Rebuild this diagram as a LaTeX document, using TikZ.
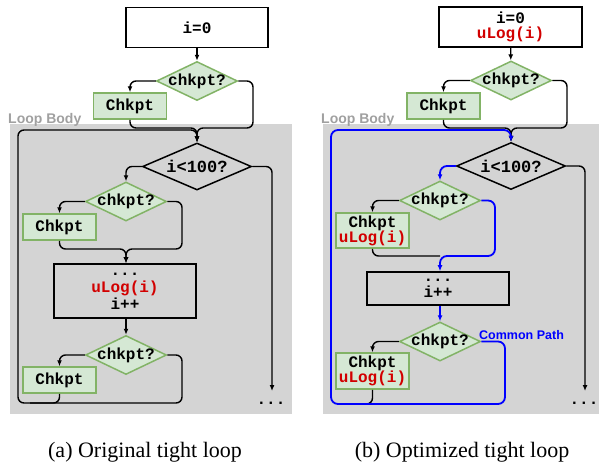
\documentclass[tikz,border=0pt]{standalone}
\usepackage{fontspec}
\setmainfont{Liberation Serif}
\newfontfamily\codefam{Liberation Mono}
\newfontfamily\sansfam{Liberation Sans}
\usetikzlibrary{shapes.geometric,arrows.meta}
\definecolor{bggray}{RGB}{212,212,212}
\definecolor{gfill}{RGB}{213,232,212}
\definecolor{gdraw}{RGB}{130,179,102}
\definecolor{codered}{RGB}{210,0,0}
\definecolor{lblgray}{RGB}{160,160,160}
\definecolor{pathblue}{RGB}{0,0,255}
\begin{document}
\begin{tikzpicture}[x=1pt,y=-1pt,
  code/.style={font=\codefam\bfseries\fontsize{16}{15}\selectfont},
  box/.style={draw=black, line width=1.6pt, inner sep=0pt, align=center, code},
  ck/.style={draw=gdraw, fill=gfill, line width=1.5pt, inner sep=0pt, minimum width=73, align=center, code},
  dia/.style={diamond, draw=gdraw, fill=gfill, line width=1.5pt, inner sep=0pt, minimum width=81, minimum height=39, code},
  cond/.style={diamond, draw=black, fill=bggray, line width=1.5pt, inner sep=0pt, minimum width=109, minimum height=47, font=\codefam\bfseries\fontsize{17}{17}\selectfont},
  conn/.style={line width=1.4pt, rounded corners=6pt},
  arr/.style={conn, -{Latex[length=6pt,width=5pt]}},
  bpath/.style={draw=pathblue, line width=1.8pt, rounded corners=7pt},
  barr/.style={bpath, -{Latex[length=6pt,width=5pt]}},
  looplbl/.style={font=\sansfam\bfseries\fontsize{14}{14}\selectfont, text=lblgray, inner sep=0pt, anchor=base west},
  captxt/.style={font=\fontsize{22}{24}\selectfont, inner sep=0pt, anchor=base},
  dots/.style={code, inner sep=0pt, anchor=base}
]
\useasboundingbox (0,0) rectangle (599,464);
% backgrounds
\fill[bggray] (10,124) rectangle (292,414);
\fill[bggray] (323,124) rectangle (599,414);
\node[looplbl] (lbL) at (8,123) {Loop Body};
\node[looplbl] (lbR) at (321,123) {Loop Body};

% ---------------- Left panel ----------------
\node[box, fill=white, minimum width=142, minimum height=40] (initL) at (197,27.5) {i=0};
\node[dia] (c1L) at (197,81) {\makebox[0pt]{chkpt?}};
\node[ck, minimum height=26] (ck1L) at (130,106) {Chkpt};
\node[cond] (condL) at (197,166.5) {\makebox[0pt]{i<100?}};
\node[dia] (c2L) at (126,201.5) {\makebox[0pt]{chkpt?}};
\node[ck, minimum height=26] (ck2L) at (59.5,227) {Chkpt};
\node[box, minimum width=142, minimum height=54, font=\codefam\bfseries\fontsize{16}{17}\selectfont] (bodyL) at (125,291) {...\\\textcolor{codered}{uLog(i)}\\i++};
\node[dia] (c4L) at (126,355) {\makebox[0pt]{chkpt?}};
\node[ck, minimum height=26] (ck4L) at (59.5,380) {Chkpt};
\node[dots] (dotsL) at (271,404) {...};

\coordinate (j1L) at (197,128);
\coordinate (j2L) at (126,249);
\coordinate (endL) at (272,391);

\draw[arr] (initL) -- (c1L);
\draw[arr] (c1L.west) -| (ck1L.north);
\draw[arr] (c1L.east) -| (253,128) -- (j1L) -- (condL.north);
\draw[arr] (ck1L.south) |- (j1L) -- (condL.north);
\draw[arr] (condL.east) -| (endL);
\draw[arr] (condL.west) -| (c2L.north);
\draw[arr] (c2L.west) -| (ck2L.north);
\draw[arr] (c2L.east) -| (182,249) -- (j2L) -- (j2L |- bodyL.north);
\draw[arr] (ck2L.south) |- (j2L) -- (j2L |- bodyL.north);
\draw[arr] (bodyL.south -| c4L.north) -- (c4L.north);
\draw[arr] (c4L.west) -| (ck4L.north);
\draw[arr] (c4L.east) -| (182,403) -- (18,403) -- (18,130) -- (197,130) -- (condL.north);
\draw[conn] (ck4L.south) |- (30,403);

% ---------------- Right panel ----------------
\node[box, fill=white, minimum width=143, minimum height=40] (initR) at (510.5,27) {i=0\\\textcolor{codered}{uLog(i)}};
\node[dia] (c1R) at (511,80.5) {\makebox[0pt]{chkpt?}};
\node[ck, minimum height=26] (ck1R) at (443.5,106) {Chkpt};
\node[cond] (condR) at (511,166) {\makebox[0pt]{i<100?}};
\node[dia] (c2R) at (440,200.5) {\makebox[0pt]{chkpt?}};
\node[ck, minimum height=35] (ck2R) at (372.5,230.5) {Chkpt\\\textcolor{codered}{uLog(i)}};
\node[box, minimum width=142, minimum height=33, font=\codefam\bfseries\fontsize{16}{16}\selectfont] (bodyR) at (438,288.5) {...\\i++};
\node[dia] (c3R) at (440,341.5) {\makebox[0pt]{chkpt?}};
\node[ck, minimum height=36] (ck3R) at (372.5,371) {Chkpt\\\textcolor{codered}{uLog(i)}};
\node[dots] (dotsR) at (584,404) {...};
\node[font=\sansfam\bfseries\fontsize{12.5}{12.5}\selectfont, text=pathblue, inner sep=0pt, anchor=base west] (cpath) at (479,339) {Common Path};

\coordinate (j1R) at (511,128);
\coordinate (j2R) at (440,256);
\coordinate (endR) at (585,391);

% black paths
\draw[arr] (initR) -- (c1R);
\draw[arr] (c1R.west) -| (ck1R.north);
\draw[arr] (c1R.east) -| (567,128) -- (j1R) -- (condR.north);
\draw[arr] (ck1R.south) |- (j1R) -- (condR.north);
\draw[arr] (condR.east) -| (endR);
\draw[arr] (c2R.west) -| (ck2R.north);
\draw[conn] (ck2R.south) |- (j2R);
\draw[arr] (c3R.west) -| (ck3R.north);
\draw[conn] (ck3R.south) |- (345,404);

% blue common path
\draw[barr] (c3R.east) -| (505,404) -- (331,404) -- (331,130) -- (511,130) -- (condR.north);
\draw[barr] (condR.west) -| (c2R.north);
\draw[barr] (c2R.east) -| (495,256) -- (j2R) -- (j2R |- bodyR.north);
\draw[barr] (bodyR.south -| c3R.north) -- (c3R.north);

% captions
\node[captxt] (capA) at (145,457) {(a) Original tight loop};
\node[captxt] (capB) at (462,457) {(b) Optimized tight loop};
\end{tikzpicture}
\end{document}
